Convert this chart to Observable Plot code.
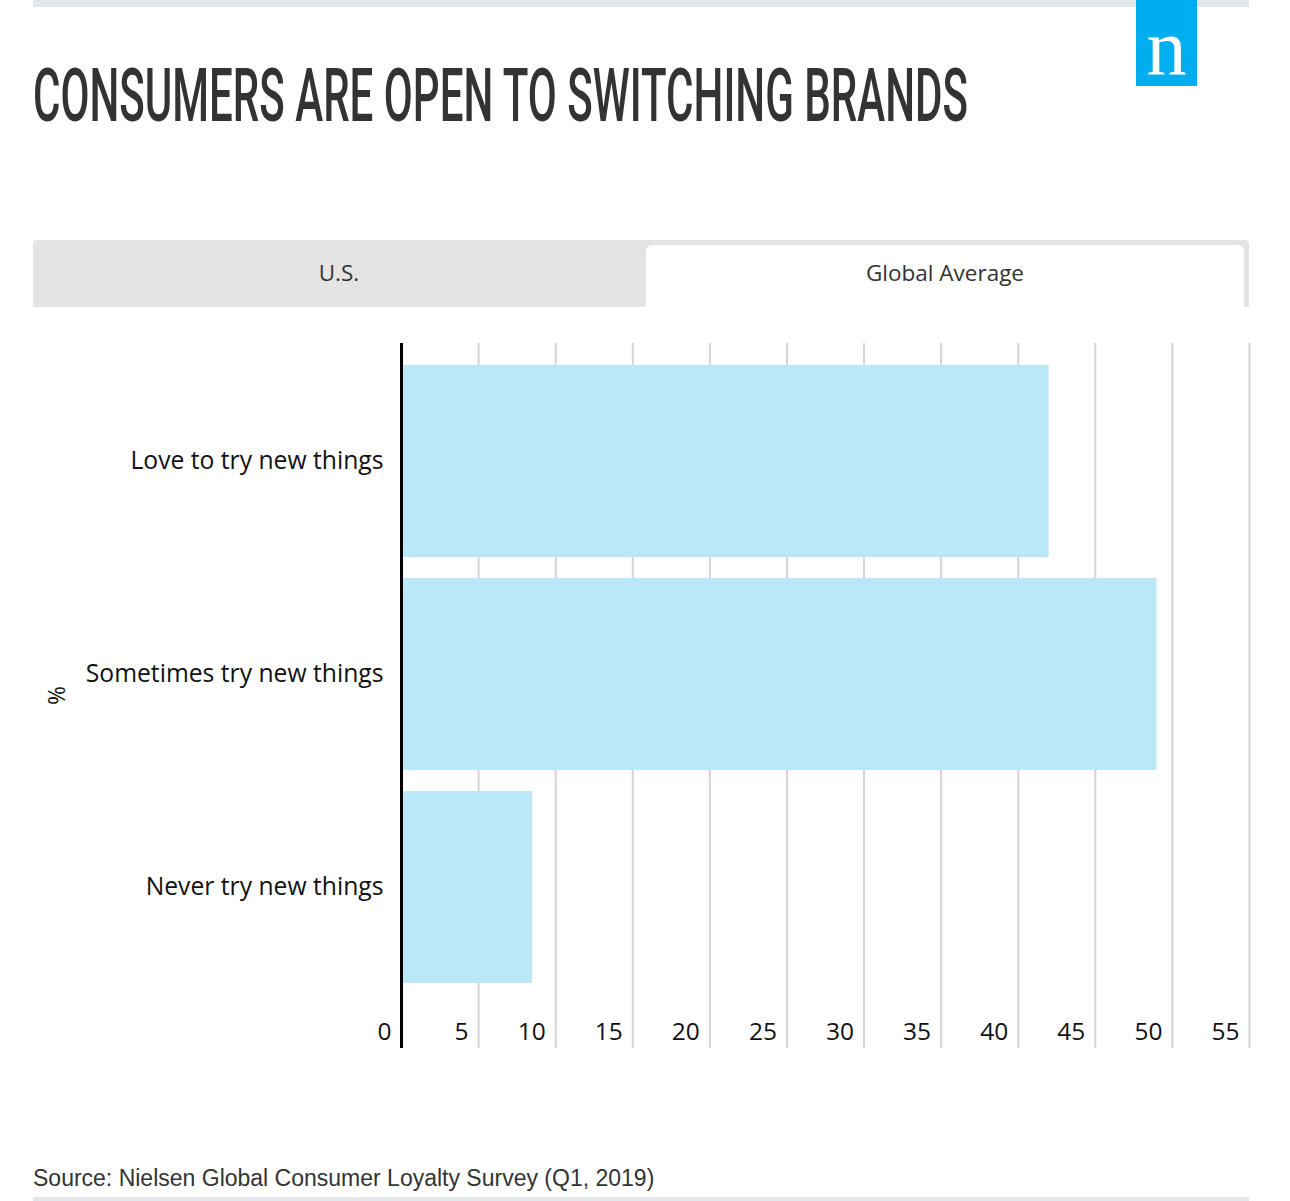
<!DOCTYPE html>
<html>
<head>
<meta charset="utf-8">
<script src="https://cdn.jsdelivr.net/npm/d3@7"></script>
<script src="https://cdn.jsdelivr.net/npm/@observablehq/plot@0.6"></script>
<style>
  html, body { margin: 0; padding: 0; background: #fff; }
  body { width: 1290px; height: 1201px; position: relative; overflow: hidden; font-family: "Open Sans", sans-serif; }
  .abs { position: absolute; }
  #topbar { left: 33px; top: 0; width: 1216px; height: 7px; background: #e3e7ea; }
  #botbar { left: 33px; top: 1197px; width: 1216px; height: 4px; background: #e3e7ea; }
  #logo { left: 1136px; top: 0; width: 61px; height: 86px; background: #00aeef; }
  #logoN { left: 1136px; top: 7px; width: 61px; text-align: center; color: #fff;
           font-family: "Liberation Serif", "DejaVu Serif", serif; font-size: 80px; line-height: 80px; }
  #title { left: 33px; top: 56px; white-space: nowrap; font-family: Roboto, "DejaVu Sans Condensed", sans-serif;
           font-weight: 500; font-size: 74px; line-height: 80px; color: #333; transform-origin: 0 0; }
  #tabs { left: 33px; top: 240px; width: 1216px; height: 67px; background: #e4e4e4; border-top-left-radius: 4px; border-top-right-radius: 4px; }
  #tabUS { left: 33px; top: 240px; width: 612px; height: 67px; display: flex; align-items: center; justify-content: center;
           font-size: 22.5px; color: #333; padding-bottom: 3px; box-sizing: border-box; }
  #tabGA { left: 646px; top: 245px; width: 598px; height: 62px; background: #fff; border-top-left-radius: 6px; border-top-right-radius: 6px;
           display: flex; align-items: center; justify-content: center; font-size: 22.5px; color: #333; padding-bottom: 8px; box-sizing: border-box; }
  #chart { left: 0; top: 320px; }
  #source { left: 33px; top: 1164px; font-family: "Liberation Sans", Arial, sans-serif; font-size: 23px; color: #333; line-height: 28px; }
</style>
</head>
<body>
<div id="topbar" class="abs"></div>
<div id="logo" class="abs"></div>
<div id="logoN" class="abs">n</div>
<div id="title" class="abs">CONSUMERS ARE OPEN TO SWITCHING BRANDS</div>
<div id="tabs" class="abs"></div>
<div id="tabUS" class="abs">U.S.</div>
<div id="tabGA" class="abs">Global Average</div>
<div id="chart" class="abs"></div>
<div id="source" class="abs">Source: Nielsen Global Consumer Loyalty Survey (Q1, 2019)</div>
<script>
const categories = ["Love to try new things", "Sometimes try new things", "Never try new things"];
const values = [42, 49, 8.5];
const xTicks = [0, 5, 10, 15, 20, 25, 30, 35, 40, 45, 50, 55];
const yLabel = "%";

// fit the condensed-looking title to its width in the reference
const titleEl = document.getElementById("title");
const natural = titleEl.getBoundingClientRect().width;
titleEl.style.transform = `scaleX(${935 / natural})`;

const data = categories.map((c, i) => ({category: c, value: values[i]}));

const chart = Plot.plot({
  width: 1290,
  height: 760,
  marginLeft: 401,
  marginRight: 41,
  marginTop: 23,
  marginBottom: 32,
  style: {background: "transparent", fontFamily: "'Open Sans', sans-serif", color: "#111"},
  x: {domain: [0, 55], axis: null},
  y: {domain: categories, range: [23, 685], padding: 0.1, axis: null},
  marks: [
    Plot.ruleX(xTicks.filter(d => d > 0), {stroke: "#d4d4d4", strokeWidth: 2}),
    Plot.barX(data, {x: "value", y: "category", fill: "#bbe8f8"}),
    Plot.ruleX([0], {stroke: "#000", strokeWidth: 3}),
    Plot.axisY({tickSize: 0, tickPadding: 18, fontSize: 24.7, label: null, fill: "#111"}),
    Plot.text(xTicks, {x: d => d, frameAnchor: "bottom", dy: -9, dx: -10, textAnchor: "end", fontSize: 24.5, fill: "#111"}),
    Plot.text([yLabel], {frameAnchor: "left", dx: -344, dy: 9, rotate: -90, fontSize: 23, fill: "#111"})
  ]
});
document.getElementById("chart").appendChild(chart);
</script>
<div id="botbar" class="abs"></div>
</body>
</html>
